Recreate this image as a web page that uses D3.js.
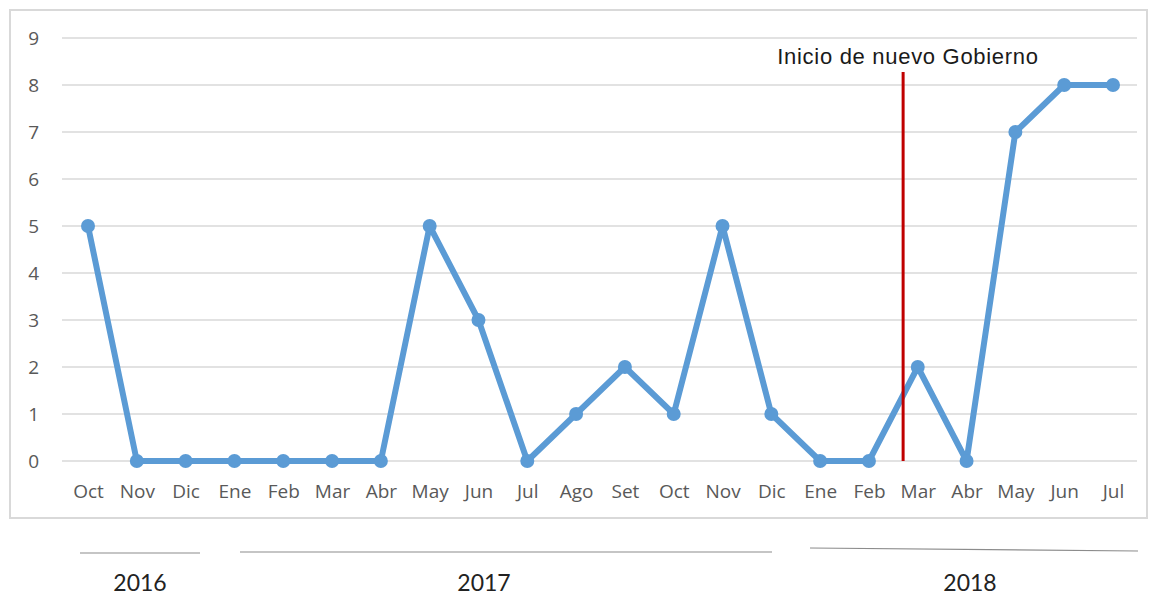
<!doctype html>
<html>
<head>
<meta charset="UTF-8">
<title>Inicio de nuevo Gobierno</title>
<script src="https://cdn.jsdelivr.net/npm/d3@7"></script>
<style>
  body { margin: 0; background: #fff; }
  .tick text { font-family: "Open Sans", sans-serif; }
</style>
</head>
<body>
<svg width="1158" height="596"></svg>
<script>
// months shown on the x axis (Oct 2016 .. Jul 2018)
var months = ["Oct","Nov","Dic","Ene","Feb","Mar","Abr","May","Jun","Jul","Ago","Set",
              "Oct","Nov","Dic","Ene","Feb","Mar","Abr","May","Jun","Jul"];
var values = [5,0,0,0,0,0,0,5,3,0,1,2,1,5,1,0,0,2,0,7,8,8];
var yTicks = [0,1,2,3,4,5,6,7,8,9];
var years = ["2016","2017","2018"];
var markerLabel = "Inicio de nuevo Gobierno";
var markerPos = 16.7;         // between Feb and Mar 2018

var svg = d3.select("svg");
var keys = months.map(function(d, i){ return i; });

var x = d3.scalePoint().domain(keys).range([88, 1113]);
var y = d3.scaleLinear().domain([0, 9]).range([461, 38]);
var step = x.step();

// outer frame
svg.append("rect")
  .attr("x", 10).attr("y", 10).attr("width", 1137).attr("height", 508)
  .attr("fill", "none").attr("stroke", "#d9d9d9").attr("stroke-width", 2);

// gridlines
svg.append("g").selectAll("line")
  .data(yTicks).enter().append("line")
  .attr("x1", 62).attr("x2", 1137)
  .attr("y1", function(d){ return y(d); })
  .attr("y2", function(d){ return y(d); })
  .attr("stroke", "#d9d9d9").attr("stroke-width", 1.5);

// y axis labels
var yAxis = svg.append("g")
  .attr("transform", "translate(39,0)")
  .call(d3.axisLeft(y).tickValues(yTicks).tickSize(0).tickPadding(0));
yAxis.select(".domain").remove();
yAxis.selectAll("text").attr("fill", "#595959").style("font-size", "19px");

// x axis labels
var xAxis = svg.append("g")
  .attr("transform", "translate(0,484)")
  .call(d3.axisBottom(x).tickFormat(function(i){ return months[i]; }).tickSize(0).tickPadding(0));
xAxis.select(".domain").remove();
xAxis.selectAll("text").attr("fill", "#595959").style("font-size", "19px");

// series line
var line = d3.line()
  .x(function(d, i){ return x(i); })
  .y(function(d){ return y(d); });

svg.append("path")
  .datum(values)
  .attr("d", line)
  .attr("fill", "none")
  .attr("stroke", "#5b9bd5")
  .attr("stroke-width", 6)
  .attr("stroke-linejoin", "round");

svg.append("g").selectAll("circle")
  .data(values).enter().append("circle")
  .attr("cx", function(d, i){ return x(i); })
  .attr("cy", function(d){ return y(d); })
  .attr("r", 7)
  .attr("fill", "#5b9bd5");

// government change marker
var mx = x(0) + markerPos * step;
svg.append("line")
  .attr("x1", mx).attr("x2", mx)
  .attr("y1", 72).attr("y2", y(0))
  .attr("stroke", "#c00000").attr("stroke-width", 3);

svg.append("text")
  .attr("x", 908).attr("y", 64)
  .attr("text-anchor", "middle")
  .attr("font-family", "'Liberation Sans', Arial, sans-serif")
  .attr("font-size", 22)
  .attr("letter-spacing", 0.7)
  .attr("fill", "#1a1a1a")
  .text(markerLabel);

// year brackets below the chart
var yearLines = [
  {x1: 80, x2: 200, y1: 553, y2: 553},
  {x1: 240, x2: 772, y1: 552, y2: 552},
  {x1: 810, x2: 1138, y1: 548, y2: 551}
];
svg.append("g").selectAll("line")
  .data(yearLines).enter().append("line")
  .attr("x1", function(d){ return d.x1; })
  .attr("x2", function(d){ return d.x2; })
  .attr("y1", function(d){ return d.y1; })
  .attr("y2", function(d){ return d.y2; })
  .attr("stroke", "#8c8c8c").attr("stroke-width", 1.2);

var yearX = [140, 484, 970];
svg.append("g").selectAll("text")
  .data(years).enter().append("text")
  .attr("x", function(d, i){ return yearX[i]; })
  .attr("y", 591)
  .attr("text-anchor", "middle")
  .attr("font-family", "Lato, 'Open Sans', sans-serif")
  .attr("font-size", 23)
  .attr("fill", "#222")
  .text(function(d){ return d; });
</script>
</body>
</html>
